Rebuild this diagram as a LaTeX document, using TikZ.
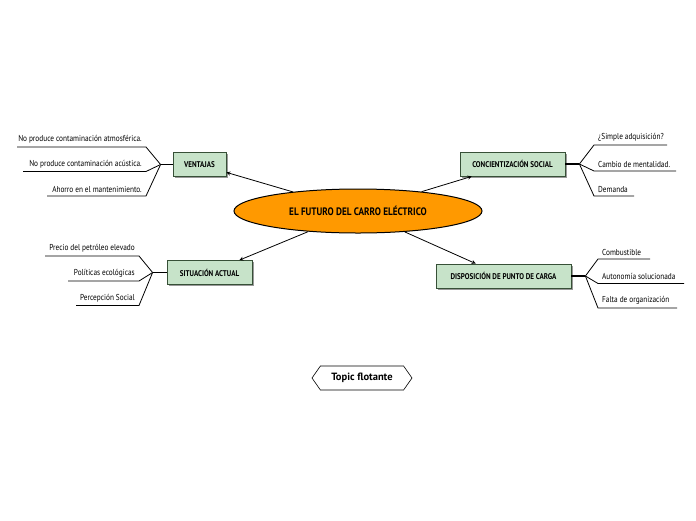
\documentclass[tikz,border=0pt]{standalone}
\usepackage{fontspec}
\setmainfont{PT Sans}[FakeStretch=0.85]
\newfontfamily\floatfont{PT Sans}
\usetikzlibrary{positioning, shapes.geometric, shapes.symbols, shadows}
\definecolor{topicgreen}{RGB}{199,227,201}
\definecolor{topicedge}{RGB}{55,80,55}
\definecolor{mainorange}{RGB}{255,153,0}

\begin{document}
\begin{tikzpicture}[x=1pt, y=-1pt, >=stealth,
  main/.style={ellipse, draw, line width=1pt, fill=mainorange, minimum width=248pt, minimum height=44pt, font=\fontsize{10.8}{12}\selectfont\bfseries},
  topic/.style={draw=topicedge, line width=0.8pt, fill=topicgreen, minimum height=24pt, inner sep=2pt, font=\fontsize{8.3}{9}\selectfont\bfseries, drop shadow={shadow xshift=1.5pt, shadow yshift=-1.5pt, fill=black!40, opacity=1}},
  sub/.style={inner xsep=4pt, inner ysep=3.5pt, font=\fontsize{8.6}{9}\selectfont},
  floating/.style={signal, signal to=west and east, signal pointer angle=110, draw, line width=0.6pt, minimum width=100pt, minimum height=24pt, font=\floatfont\fontsize{10.5}{12}\selectfont\bfseries},
  stem/.style={line width=1.6pt},
  twig/.style={line width=0.8pt}]
\useasboundingbox (0,0) rectangle (696,520);
\node[main] (futuro) at (358,211) {EL FUTURO DEL CARRO ELÉCTRICO};
\node[topic, minimum width=53pt] (ventajas) at (199.5,164.5) {VENTAJAS};
\node[topic, minimum width=105pt] (concien) at (512.5,164) {CONCIENTIZACIÓN SOCIAL};
\node[topic, minimum width=85pt] (situacion) at (209.5,272.5) {SITUACIÓN ACTUAL};
\node[topic, minimum width=135pt] (disposicion) at (503.5,276) {DISPOSICIÓN DE PUNTO DE CARGA};
\draw[->, line width=0.8pt] (futuro) -- (ventajas);
\draw[->, line width=0.8pt] (futuro) -- (concien);
\draw[->, line width=0.8pt] (futuro) -- (situacion);
\draw[->, line width=0.8pt] (futuro) -- (disposicion);

\coordinate[left=12pt of ventajas] (vj);
\coordinate[right=14pt of concien] (cj);
\coordinate[left=14pt of situacion] (sj);
\coordinate[right=14pt of disposicion] (dj);
\draw[stem] (ventajas) -- (vj);
\draw[stem] (concien) -- (cj);
\draw[stem] (situacion) -- (sj);
\draw[stem] (disposicion) -- (dj);

\node[sub, anchor=south east] (v1) at (146,147) {No produce contaminación atmosférica.};
\node[sub, anchor=south east] (v2) at (146,171.5) {No produce contaminación acústica.};
\node[sub, anchor=south east] (v3) at (146,196) {Ahorro en el mantenimiento.};
\coordinate (v1e) at (17,147);
\coordinate (v2e) at (23,171.5);
\coordinate (v3e) at (47,196);
\draw[twig] (vj) -- (v1.south east) -- (v1e);
\draw[twig] (vj) -- (v2.south east) -- (v2e);
\draw[twig] (vj) -- (v3.south east) -- (v3e);

\node[sub, anchor=south west] (c1) at (594,145) {¿Simple adquisición?};
\node[sub, anchor=south west] (c2) at (594,171) {Cambio de mentalidad.};
\node[sub, anchor=south west] (c3) at (594,196) {Demanda};
\coordinate (c1e) at (667,145);
\coordinate (c2e) at (676,171);
\coordinate (c3e) at (634,196);
\draw[twig] (cj) -- (c1.south west) -- (c1e);
\draw[twig] (cj) -- (c2.south west) -- (c2e);
\draw[twig] (cj) -- (c3.south west) -- (c3e);

\node[sub, anchor=south east] (s1) at (139,256) {Precio del petróleo elevado};
\node[sub, anchor=south east] (s2) at (139,281) {Políticas ecológicas};
\node[sub, anchor=south east] (s3) at (139,305.5) {Percepción Social};
\coordinate (s1e) at (45,256);
\coordinate (s2e) at (68,281);
\coordinate (s3e) at (76,305.5);
\draw[twig] (sj) -- (s1.south east) -- (s1e);
\draw[twig] (sj) -- (s2.south east) -- (s2e);
\draw[twig] (sj) -- (s3.south east) -- (s3e);

\node[sub, anchor=south west] (d1) at (598,259) {Combustible};
\node[sub, anchor=south west] (d2) at (598,283.5) {Autonomía solucionada};
\node[sub, anchor=south west] (d3) at (598,308) {Falta de organización};
\coordinate (d1e) at (650,259);
\coordinate (d2e) at (684,283.5);
\coordinate (d3e) at (677,308);
\draw[twig] (dj) -- (d1.south west) -- (d1e);
\draw[twig] (dj) -- (d2.south west) -- (d2e);
\draw[twig] (dj) -- (d3.south west) -- (d3e);

\node[floating] (flotante) at (362,378) {Topic flotante};
\end{tikzpicture}
\end{document}
